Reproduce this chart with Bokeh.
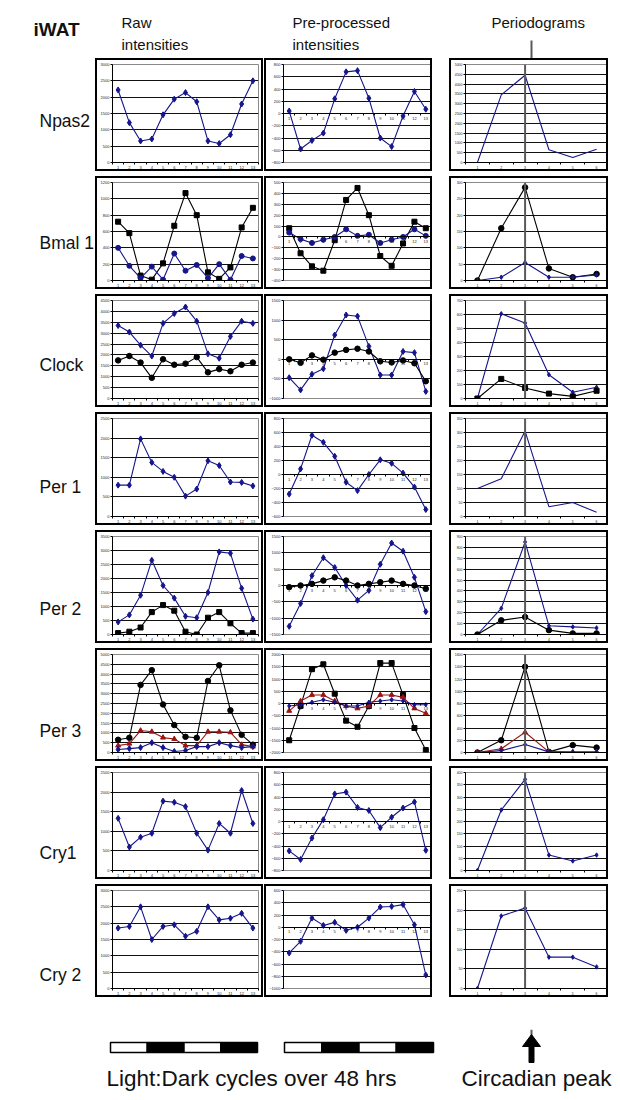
from bokeh.plotting import figure
from bokeh.layouts import column, row
from bokeh.models import FixedTicker, Span, Spacer, Range1d
from bokeh.embed import file_html
from bokeh.resources import INLINE
from bokeh.core.properties import value

# ---------------- data ----------------
genes = ["Npas2", "Bmal 1", "Clock", "Per 1", "Per 2", "Per 3", "Cry1", "Cry 2"]
time_points = list(range(1, 14))
period_bins = list(range(1, 7))
header_titles = ["Raw", "intensities", "Pre-processed", "intensities", "Periodograms"]

# Npas2
npas2_raw_blue = [2220, 1220, 660, 720, 1460, 1940, 2140, 1860, 660, 580, 850, 1790, 2500]
npas2_pre_blue = [40, -580, -440, -320, 240, 680, 700, 250, -400, -540, -40, 360, 70]
npas2_per_blue = [0, 3450, 4450, 650, 250, 680]
# Bmal 1
bmal1_raw_black = [720, 580, 60, 10, 210, 670, 1070, 800, 100, 20, 160, 650, 890]
bmal1_raw_blue = [400, 180, 30, 170, 10, 330, 120, 190, 30, 200, 10, 300, 270]
bmal1_pre_black = [80, -150, -270, -310, -30, 340, 450, 200, -175, -265, -60, 140, 80]
bmal1_pre_blue = [40, -20, -55, -25, 0, 70, 10, 20, -55, -25, 0, 70, 10]
bmal1_per_black = [0, 160, 285, 37, 10, 20]
bmal1_per_blue = [0, 10, 55, 10, 10, 17]
# Clock
clock_raw_blue = [3350, 3050, 2450, 1950, 3450, 3900, 4200, 3550, 2050, 1850, 2850, 3550, 3450]
clock_raw_black = [1750, 1950, 1650, 950, 1800, 1550, 1600, 1900, 1200, 1350, 1250, 1550, 1650]
clock_pre_blue = [-470, -780, -380, -240, 620, 1130, 1100, 330, -400, -400, 200, 170, -820]
clock_pre_black = [0, -90, 100, -10, 170, 240, 270, 200, -50, -80, -30, -100, -560]
clock_per_blue = [0, 605, 540, 170, 45, 80]
clock_per_black = [0, 140, 75, 35, 15, 55]
# Per 1
per1_raw_blue = [800, 800, 1980, 1380, 1150, 1000, 520, 700, 1420, 1300, 880, 870, 780]
per1_pre_blue = [-280, 80, 560, 460, 260, -110, -230, 0, 210, 160, 20, -180, -500]
per1_per_blue = [100, 135, 305, 35, 50, 15]
# Per 2
per2_raw_blue = [450, 700, 1400, 2650, 1750, 1300, 650, 600, 1500, 2950, 2900, 1650, 550]
per2_raw_black = [50, 100, 250, 800, 1050, 850, 100, 0, 600, 800, 400, 50, 50]
per2_pre_blue = [-1250, -550, 300, 850, 550, 0, -450, -150, 650, 1300, 1050, 250, -800]
per2_pre_black = [-50, 0, 50, 150, 250, 150, 0, 50, 100, 150, 50, 0, -100]
per2_per_blue = [0, 240, 850, 80, 70, 60]
per2_per_black = [0, 130, 160, 40, 10, 10]
# Per 3
per3_raw_black = [650, 750, 3450, 4200, 2450, 1400, 800, 750, 3650, 4450, 2150, 900, 400]
per3_raw_red = [350, 450, 1120, 1060, 760, 690, 350, 350, 1060, 1060, 1030, 400, 300]
per3_raw_blue = [150, 200, 250, 500, 250, 50, 100, 300, 300, 500, 350, 250, 300]
per3_pre_black = [-1500, -100, 1400, 1600, 400, -700, -950, -100, 1650, 1650, 350, -1000, -1900]
per3_pre_red = [-300, 100, 350, 350, 100, -100, -200, -100, 350, 350, 250, -200, -400]
per3_pre_blue = [-100, -50, 50, 150, 50, -100, -100, 50, 100, 150, 100, -50, -50]
per3_per_black = [0, 200, 1400, 10, 120, 80]
per3_per_red = [0, 60, 330, 10, 10, 10]
per3_per_blue = [0, 30, 130, 10, 5, 5]
# Cry1
cry1_raw_blue = [1330, 600, 850, 950, 1770, 1740, 1630, 950, 520, 1200, 950, 2040, 1200]
cry1_pre_blue = [-480, -620, -270, 30, 450, 480, 230, 180, -100, 70, 220, 320, -470]
cry1_per_blue = [0, 247, 372, 63, 39, 63]
# Cry 2
cry2_raw_blue = [1850, 1900, 2500, 1500, 1900, 1950, 1600, 1750, 2500, 2100, 2150, 2300, 1850]
cry2_pre_blue = [-420, -230, 150, 30, 80, -50, 0, 150, 330, 340, 370, 40, -780]
cry2_per_blue = [0, 185, 205, 80, 80, 55]

# axis scales (min, max, step) per gene: raw, pre-processed, periodogram
raw_scales = [(0, 3000, 500), (0, 1200, 200), (0, 4500, 500), (0, 2500, 500),
              (0, 3500, 500), (0, 5000, 500), (0, 2500, 500), (0, 3000, 500)]
pre_scales = [(-800, 800, 200), (-400, 500, 100), (-1000, 1500, 500), (-600, 800, 200),
              (-1500, 1500, 500), (-2000, 2000, 500), (-800, 800, 200), (-1000, 600, 200)]
per_scales = [(0, 5000, 500), (0, 300, 50), (0, 700, 100), (0, 350, 50),
              (0, 900, 100), (0, 1600, 200), (0, 400, 50), (0, 250, 50)]

raw_series = [
    [(npas2_raw_blue, "bd")],
    [(bmal1_raw_black, "ks"), (bmal1_raw_blue, "bc")],
    [(clock_raw_blue, "bd"), (clock_raw_black, "kc")],
    [(per1_raw_blue, "bd")],
    [(per2_raw_blue, "bd"), (per2_raw_black, "ks")],
    [(per3_raw_black, "kc"), (per3_raw_red, "rt"), (per3_raw_blue, "bd")],
    [(cry1_raw_blue, "bd")],
    [(cry2_raw_blue, "bd")],
]
pre_series = [
    [(npas2_pre_blue, "bd")],
    [(bmal1_pre_black, "ks"), (bmal1_pre_blue, "bc")],
    [(clock_pre_blue, "bd"), (clock_pre_black, "kc")],
    [(per1_pre_blue, "bd")],
    [(per2_pre_blue, "bd"), (per2_pre_black, "kc")],
    [(per3_pre_black, "ks"), (per3_pre_red, "rt"), (per3_pre_blue, "bsd")],
    [(cry1_pre_blue, "bd")],
    [(cry2_pre_blue, "bd")],
]
per_series = [
    [(npas2_per_blue, "bl")],
    [(bmal1_per_black, "kc"), (bmal1_per_blue, "bsd")],
    [(clock_per_blue, "bsd"), (clock_per_black, "ks")],
    [(per1_per_blue, "bl")],
    [(per2_per_blue, "bsd"), (per2_per_black, "kc")],
    [(per3_per_black, "kc"), (per3_per_red, "rt"), (per3_per_blue, "bsd")],
    [(cry1_per_blue, "bsd")],
    [(cry2_per_blue, "bsd")],
]

BLUE = "#15158c"
BLACK = "#000000"
RED = "#9a1414"
STYLES = {
    "bd": (BLUE, "diamond", 6),
    "bsd": (BLUE, "diamond", 4.5),
    "bc": (BLUE, "circle", 5),
    "bl": (BLUE, None, 0),
    "ks": (BLACK, "square", 5),
    "kc": (BLACK, "circle", 5.5),
    "rt": (RED, "triangle", 5),
}

FONT = "Liberation Sans"

# ---------------- geometry ----------------
PANEL_H = 113          # canvas height (border adds 4)
GAP = 5
COL_W = [168, 168, 159]  # canvas widths (border adds 4)


def make_panel(series, scale, cats, kind, w, lb, rb, lab_size):
    ncat = len(cats)
    p = figure(width=w, height=PANEL_H, x_range=Range1d(0.5, ncat + 0.5),
               y_range=Range1d(scale[0], scale[1]), output_backend="svg",
               toolbar_location=None, min_border_left=lb, min_border_right=rb,
               min_border_top=4, min_border_bottom=11,
               background_fill_color="white", border_fill_color="white",
               outline_line_color="#8a8a8a", outline_line_width=1,
               styles={"border": "2px solid #000000"})
    p.yaxis.ticker = FixedTicker(ticks=list(range(scale[0], scale[1] + 1, scale[2])))
    p.xaxis.ticker = FixedTicker(ticks=cats, minor_ticks=[c - 0.5 for c in cats] + [cats[-1] + 0.5])
    p.axis.major_label_text_font_size = lab_size
    p.axis.major_label_text_font = FONT
    p.axis.major_label_text_color = "#222222"
    p.axis.major_label_standoff = 1
    p.axis.axis_line_color = BLACK
    p.axis.axis_line_width = 1
    p.yaxis.major_tick_out = 2
    p.yaxis.major_tick_in = 0
    p.yaxis.minor_tick_out = 0
    p.xaxis.major_tick_out = 0
    p.xaxis.major_tick_in = 0
    p.xaxis.minor_tick_out = 2
    p.xaxis.minor_tick_in = 0
    p.xaxis.minor_tick_line_color = BLACK
    p.xgrid.visible = False
    p.ygrid.ticker = p.yaxis.ticker
    p.ygrid.grid_line_color = "#111111"
    p.ygrid.grid_line_width = 1
    if kind == "pre":
        p.xaxis.fixed_location = 0
    if kind == "per":
        p.add_layout(Span(location=3, dimension="height", line_color="#5a5a5a",
                          line_width=2, level="overlay"))
    for vals, st in series:
        color, marker, size = STYLES[st]
        p.line(cats, vals, line_color=color, line_width=1.1)
        if marker:
            p.scatter(cats, vals, marker=marker, size=size, fill_color=color,
                      line_color=color)
    return p


def page_fig(w, h, top):
    p = figure(width=w, height=h, x_range=Range1d(0, w), y_range=Range1d(top + h, top),
               output_backend="svg", toolbar_location=None, min_border=0,
               outline_line_color=None, background_fill_color="white",
               border_fill_color="white")
    p.axis.visible = False
    p.grid.visible = False
    return p


# ---------------- header ----------------
HEAD_H = 58
header = page_fig(620, HEAD_H, 0)
header.text(x=[33], y=[29], text=["iWAT"], text_font=value(FONT), text_font_style="bold",
            text_font_size="19px", text_color="#111111", text_baseline="alphabetic")
header.text(x=[121, 121, 292, 292, 491], y=[22, 44, 22, 44, 22], text=header_titles,
            text_font=value(FONT), text_font_size="15px", text_color="#111111",
            text_baseline="alphabetic")
header.segment(x0=[531], y0=[40], x1=[531], y1=[HEAD_H], line_color="#5a5a5a", line_width=2)

# ---------------- body ----------------
BODY_H = 8 * (PANEL_H + 4) + 7 * GAP
labels = page_fig(95, BODY_H, HEAD_H)
row_mid = [HEAD_H + i * (PANEL_H + 4 + GAP) + 62 for i in range(8)]
labels.text(x=[39] * 8, y=row_mid, text=genes, text_font=value(FONT),
            text_font_size="17.5px", text_color="#111111", text_baseline="middle")


def stack(panels):
    kids = []
    for i, pnl in enumerate(panels):
        if i:
            kids.append(Spacer(width=10, height=GAP))
        kids.append(pnl)
    return column(*kids, spacing=0)


col1 = stack([make_panel(raw_series[i], raw_scales[i], time_points, "raw", COL_W[0], 13, 7, "4px")
              for i in range(8)])
col2 = stack([make_panel(pre_series[i], pre_scales[i], time_points, "pre", COL_W[1], 11, 3, "4px")
              for i in range(8)])
col3 = stack([make_panel(per_series[i], per_scales[i], period_bins, "per", COL_W[2], 10, 2, "3.5px")
              for i in range(8)])

body = row(labels, col1, Spacer(width=1, height=BODY_H), col2,
           Spacer(width=17, height=BODY_H), col3, spacing=0)

# ---------------- footer ----------------
FOOT_TOP = HEAD_H + BODY_H
FOOT_H = 1100 - FOOT_TOP
footer = page_fig(620, FOOT_H, FOOT_TOP)


def ld_bar(x0, x1):
    seg = (x1 - x0) / 4.0
    lefts = [x0 + k * seg for k in range(4)]
    rights = [x0 + (k + 1) * seg for k in range(4)]
    footer.quad(left=lefts, right=rights, top=[FOOT_TOP + 13] * 4, bottom=[FOOT_TOP + 23] * 4,
                fill_color=["white", "black", "white", "black"], line_color="black",
                line_width=1.5)


ld_bar(110, 257)
ld_bar(284, 433)
footer.segment(x0=[531], y0=[FOOT_TOP], x1=[531], y1=[FOOT_TOP + 6], line_color="#5a5a5a",
               line_width=2)
footer.patch(x=[522, 531, 540], y=[FOOT_TOP + 17, FOOT_TOP + 5, FOOT_TOP + 17],
             fill_color="black", line_color="black")
footer.quad(left=[528.5], right=[533.5], top=[FOOT_TOP + 16], bottom=[FOOT_TOP + 33],
            fill_color="black", line_color="black")
footer.text(x=[251, 536], y=[FOOT_TOP + 49, FOOT_TOP + 49],
            text=["Light:Dark cycles over 48 hrs", "Circadian peak"],
            text_font=value(FONT), text_font_size="22.5px", text_color="#111111",
            text_align="center", text_baseline="middle")

layout = column(header, body, footer, spacing=0)

open("out.html", "w").write(file_html(layout, INLINE, title="iWAT"))
